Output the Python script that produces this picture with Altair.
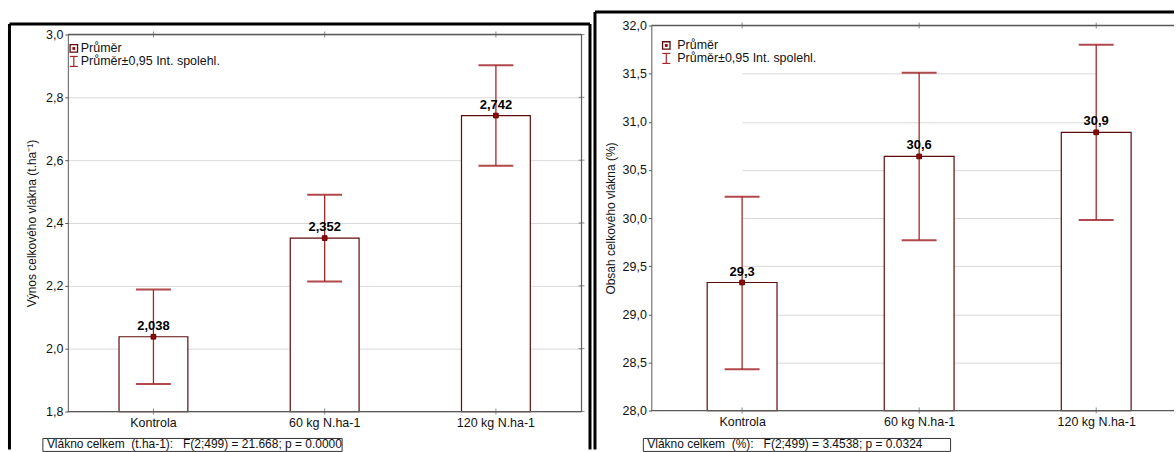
import altair as alt
import pandas as pd

# Treatment groups
categories = ["Kontrola", "60 kg N.ha-1", "120 kg N.ha-1"]

# Total fibre yield (t/ha): mean and 95 % confidence interval
yield_mean = [2.038, 2.352, 2.742]
yield_lo = [1.888, 2.214, 2.582]
yield_hi = [2.188, 2.490, 2.902]
yield_ticks = [1.8, 2.0, 2.2, 2.4, 2.6, 2.8, 3.0]

# Total fibre content (%): mean and 95 % confidence interval
fibre_mean = [29.33, 30.64, 30.89]
fibre_lo = [28.43, 29.77, 29.98]
fibre_hi = [30.22, 31.51, 31.80]
fibre_ticks = [28.0, 28.5, 29.0, 29.5, 30.0, 30.5, 31.0, 31.5, 32.0]

FONT = "Liberation Sans"
DARK = "#5e0b0b"
ERR = "#a3282b"
POINT = "#8e0a0a"
BORDER = "#5a5a5a"
NB = "\u00a0"
TXT = 12.5


def one_row():
    return alt.Chart(pd.DataFrame({"k": [0]}))


def panel(means, lo, hi, decimals, ymin, ymax, ticks, ytitle, note,
          w, h, top, x_scale, bar_size, leg, box, frame, title_pad,
          right_border=True):
    """One ANOVA means plot; the data area spans y = top .. h inside the view."""
    df = pd.DataFrame({"cat": categories, "mean": means, "lo": lo, "hi": hi})
    df["label"] = [f"{v:.{decimals}f}".replace(".", ",") for v in means]

    x = alt.X("cat:N", sort=categories, scale=x_scale,
              axis=alt.Axis(title=None, labelAngle=0, ticks=False, domain=False,
                            labelPadding=5, labelFontSize=TXT, labelColor="#111"))
    y_scale = alt.Scale(domain=[ymin, ymax], nice=False, zero=False,
                        range=[h, top])
    y_axis = alt.Axis(values=ticks, title=ytitle,
                      labelExpr="replace(format(datum.value, '.1f'), '.', ',')",
                      tickSize=3, labelPadding=2, titlePadding=title_pad,
                      labelFontSize=TXT, labelColor="#111", titleFontSize=12,
                      titleFontWeight="normal", titleColor="#111",
                      domainColor=BORDER, tickColor=BORDER,
                      gridColor="#d9d9d9")

    def Y(field):
        return alt.Y(field, scale=y_scale, axis=y_axis)

    base = alt.Chart(df).encode(x=x)

    bars = base.mark_bar(fill="white", stroke=DARK, strokeWidth=1.2,
                         size=bar_size).encode(
        y=Y("mean:Q"), y2=alt.datum(ymin))
    whisk = base.mark_rule(color=ERR, strokeWidth=1.3).encode(
        y=Y("lo:Q"), y2="hi:Q")
    cap_lo = base.mark_tick(color=ERR, size=35, thickness=2, orient="horizontal",
                            opacity=0.85).encode(y=Y("lo:Q"))
    cap_hi = base.mark_tick(color=ERR, size=35, thickness=2, orient="horizontal",
                            opacity=0.85).encode(y=Y("hi:Q"))
    pts = base.mark_square(size=22, fill=POINT, stroke="#6a0000",
                           strokeWidth=1, opacity=1).encode(y=Y("mean:Q"))
    labels = base.mark_text(dy=-4, baseline="bottom", fontWeight="bold",
                            fontSize=13, color="#000", font=FONT).encode(
        y=Y("mean:Q"), text="label:N")

    # small inward category ticks on the top and bottom borders
    cat_ticks = [
        base.mark_tick(color=BORDER, size=6, thickness=1, orient="vertical").encode(
            y=alt.value(h)),
        base.mark_tick(color=BORDER, size=6, thickness=1, orient="vertical").encode(
            y=alt.value(top)),
    ]

    # plot-area border (top, bottom, right)
    border = [
        one_row().mark_rule(color=BORDER, strokeWidth=1.5).encode(
            x=alt.value(0), x2=alt.value(w), y=alt.value(top)),
        one_row().mark_rule(color=BORDER, strokeWidth=1.2).encode(
            x=alt.value(0), x2=alt.value(w), y=alt.value(h)),
    ]
    if right_border:
        border.append(one_row().mark_rule(color=BORDER, strokeWidth=1.2).encode(
            x=alt.value(w), y=alt.value(top), y2=alt.value(h)))
        # tick marks on the right border at each gridline
        border.append(alt.Chart(pd.DataFrame({"t": ticks})).mark_tick(
            color=BORDER, size=6, thickness=1, orient="horizontal").encode(
            x=alt.value(w), y=Y("t:Q")))

    # legend inside the plot area
    lx, tx, ly1, ly2 = leg
    legend = [
        one_row().mark_square(size=56, fill="white", stroke=DARK, strokeWidth=1.3,
                              opacity=1).encode(x=alt.value(lx), y=alt.value(ly1)),
        one_row().mark_square(size=8, fill=POINT, opacity=1).encode(
            x=alt.value(lx), y=alt.value(ly1)),
        one_row().mark_text(align="left", baseline="middle", fontSize=TXT,
                            font=FONT, color="#111").encode(
            x=alt.value(tx), y=alt.value(ly1), text=alt.value("Průměr")),
        one_row().mark_rule(color=ERR, strokeWidth=1.2).encode(
            x=alt.value(lx), y=alt.value(ly2 - 5), y2=alt.value(ly2 + 5)),
        one_row().mark_rule(color=ERR, strokeWidth=1.2).encode(
            x=alt.value(lx - 4), x2=alt.value(lx + 4), y=alt.value(ly2 - 5)),
        one_row().mark_rule(color=ERR, strokeWidth=1.2).encode(
            x=alt.value(lx - 4), x2=alt.value(lx + 4), y=alt.value(ly2 + 5)),
        one_row().mark_text(align="left", baseline="middle", fontSize=TXT,
                            font=FONT, color="#111").encode(
            x=alt.value(tx), y=alt.value(ly2),
            text=alt.value("Průměr±0,95 Int. spolehl.")),
    ]

    # ANOVA note box under the axis
    bx1, bx2, by1, by2 = box
    note_layers = [
        one_row().mark_rect(fill="white", stroke="#333", strokeWidth=1).encode(
            x=alt.value(bx1), x2=alt.value(bx2), y=alt.value(by1), y2=alt.value(by2)),
        one_row().mark_text(align="left", baseline="bottom", fontSize=12,
                            font=FONT, color="#111").encode(
            x=alt.value(bx1 + 4), y=alt.value(by2),
            text=alt.value(note.replace(" ", NB))),
    ]

    # black outer frame
    fx1, fx2, fy1, fy2, right_side = frame
    frames = [
        one_row().mark_rule(color="#000", strokeWidth=3).encode(
            x=alt.value(fx1), x2=alt.value(fx2), y=alt.value(fy1)),
        one_row().mark_rule(color="#000", strokeWidth=3).encode(
            x=alt.value(fx1), y=alt.value(fy1), y2=alt.value(fy2)),
    ]
    if right_side:
        frames.append(one_row().mark_rule(color="#000", strokeWidth=3).encode(
            x=alt.value(fx2), y=alt.value(fy1), y2=alt.value(fy2)))

    return alt.layer(bars, whisk, cap_lo, cap_hi, pts, labels, *cat_ticks,
                     *border, *legend, *note_layers, *frames).properties(
        width=w, height=h, view=alt.ViewBackground(stroke="transparent"))


left = panel(yield_mean, yield_lo, yield_hi, 3, 1.8, 3.0, yield_ticks,
             "Výnos celkového vlákna (t.ha⁻¹)",
             "Vlákno celkem  (t.ha-1):   F(2;499) = 21.668; p = 0.0000",
             515, 387, 9,
             alt.Scale(domain=categories, paddingInner=0, paddingOuter=0),
             69,
             (6, 13, 23, 36),
             (-25, 275, 414, 427),
             (-58.5, 523.5, -1.5, 425, True),
             7)

right = panel(fibre_mean, fibre_lo, fibre_hi, 1, 28.0, 32.0, fibre_ticks,
              "Obsah celkového vlákna (%)",
              "Vlákno celkem  (%):   F(2;499) = 3.4538; p = 0.0324",
              524, 386, 0,
              alt.Scale(type="point", domain=categories, range=[91, 446],
                        padding=0),
              70,
              (15, 26, 20, 33),
              (-8, 300, 414, 427),
              (-56.5, 524, -13.5, 425, False),
              5, right_border=False)

chart = alt.hconcat(left, right, spacing=70, bounds="flush").properties(
    padding={"left": 7, "top": 9, "right": 0, "bottom": 0}
).configure(font=FONT)

chart.save("out.html", embed_options={"renderer": "svg", "actions": False})
